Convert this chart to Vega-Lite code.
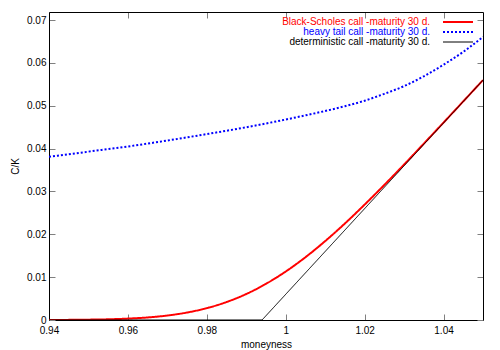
{
  "$schema": "https://vega.github.io/schema/vega-lite/v6.json",
  "width": 434,
  "height": 308,
  "autosize": {"type": "none"},
  "padding": {"left": 49, "top": 12, "right": 17, "bottom": 30},
  "background": "white",
  "config": {
    "view": {"stroke": null},
    "font": "Liberation Sans",
    "axis": {
      "grid": false,
      "domainColor": "#000000",
      "domainWidth": 1,
      "tickColor": "#808080",
      "tickWidth": 1,
      "tickSize": -6,
      "labelColor": "#000000",
      "labelFont": "Liberation Sans",
      "labelFontSize": 10,
      "titleFont": "Liberation Sans",
      "titleFontSize": 10,
      "titleFontWeight": "normal",
      "titleColor": "#000000",
      "labelFlush": false,
      "labelOverlap": false
    },
    "legend": {
      "labelFont": "Liberation Sans",
      "labelFontSize": 10
    }
  },
  "data": {
    "values": [
      {"x": 0.94, "series": "Black-Scholes call -maturity 30 d.", "y": 0.00001},
      {"x": 0.945, "series": "Black-Scholes call -maturity 30 d.", "y": 0.00003},
      {"x": 0.95, "series": "Black-Scholes call -maturity 30 d.", "y": 0.00008},
      {"x": 0.955, "series": "Black-Scholes call -maturity 30 d.", "y": 0.00016},
      {"x": 0.96, "series": "Black-Scholes call -maturity 30 d.", "y": 0.00033},
      {"x": 0.965, "series": "Black-Scholes call -maturity 30 d.", "y": 0.0006},
      {"x": 0.97, "series": "Black-Scholes call -maturity 30 d.", "y": 0.00105},
      {"x": 0.975, "series": "Black-Scholes call -maturity 30 d.", "y": 0.00175},
      {"x": 0.98, "series": "Black-Scholes call -maturity 30 d.", "y": 0.00277},
      {"x": 0.985, "series": "Black-Scholes call -maturity 30 d.", "y": 0.0042},
      {"x": 0.99, "series": "Black-Scholes call -maturity 30 d.", "y": 0.00607},
      {"x": 0.995, "series": "Black-Scholes call -maturity 30 d.", "y": 0.00845},
      {"x": 1.0, "series": "Black-Scholes call -maturity 30 d.", "y": 0.01132},
      {"x": 1.005, "series": "Black-Scholes call -maturity 30 d.", "y": 0.01466},
      {"x": 1.01, "series": "Black-Scholes call -maturity 30 d.", "y": 0.01842},
      {"x": 1.015, "series": "Black-Scholes call -maturity 30 d.", "y": 0.02253},
      {"x": 1.02, "series": "Black-Scholes call -maturity 30 d.", "y": 0.02694},
      {"x": 1.025, "series": "Black-Scholes call -maturity 30 d.", "y": 0.03154},
      {"x": 1.03, "series": "Black-Scholes call -maturity 30 d.", "y": 0.03629},
      {"x": 1.035, "series": "Black-Scholes call -maturity 30 d.", "y": 0.04117},
      {"x": 1.04, "series": "Black-Scholes call -maturity 30 d.", "y": 0.04609},
      {"x": 1.045, "series": "Black-Scholes call -maturity 30 d.", "y": 0.05104},
      {"x": 1.05, "series": "Black-Scholes call -maturity 30 d.", "y": 0.05601},
      {"x": 0.94, "series": "heavy tail call -maturity 30 d.", "y": 0.0381},
      {"x": 0.95, "series": "heavy tail call -maturity 30 d.", "y": 0.0393},
      {"x": 0.96, "series": "heavy tail call -maturity 30 d.", "y": 0.0405},
      {"x": 0.97, "series": "heavy tail call -maturity 30 d.", "y": 0.0419},
      {"x": 0.98, "series": "heavy tail call -maturity 30 d.", "y": 0.0434},
      {"x": 0.99, "series": "heavy tail call -maturity 30 d.", "y": 0.045},
      {"x": 1.0, "series": "heavy tail call -maturity 30 d.", "y": 0.0468},
      {"x": 1.01, "series": "heavy tail call -maturity 30 d.", "y": 0.0488},
      {"x": 1.015, "series": "heavy tail call -maturity 30 d.", "y": 0.0499},
      {"x": 1.02, "series": "heavy tail call -maturity 30 d.", "y": 0.0512},
      {"x": 1.025, "series": "heavy tail call -maturity 30 d.", "y": 0.0528},
      {"x": 1.03, "series": "heavy tail call -maturity 30 d.", "y": 0.0546},
      {"x": 1.035, "series": "heavy tail call -maturity 30 d.", "y": 0.0569},
      {"x": 1.04, "series": "heavy tail call -maturity 30 d.", "y": 0.0596},
      {"x": 1.045, "series": "heavy tail call -maturity 30 d.", "y": 0.0626},
      {"x": 1.05, "series": "heavy tail call -maturity 30 d.", "y": 0.0661},
      {"x": 0.94, "series": "deterministic call -maturity 30 d.", "y": 0},
      {"x": 0.994, "series": "deterministic call -maturity 30 d.", "y": 0},
      {"x": 1.05, "series": "deterministic call -maturity 30 d.", "y": 0.056}
    ]
  },
  "layer": [
    {
      "transform": [{"filter": "datum.series === 'Black-Scholes call -maturity 30 d.'"}],
      "mark": {"type": "line", "interpolate": "monotone", "clip": true, "strokeWidth": 2},
      "encoding": {
        "x": {
          "field": "x", "type": "quantitative",
          "scale": {"domain": [0.94, 1.05], "nice": false, "zero": false},
          "axis": {
            "orient": "bottom",
            "values": [0.94, 0.96, 0.98, 1.0, 1.02, 1.04],
            "format": "~g",
            "labelPadding": 11,
            "title": "moneyness",
            "titlePadding": 4
          }
        },
        "y": {
          "field": "y", "type": "quantitative",
          "scale": {"domain": [0, 0.0719], "nice": false, "zero": false},
          "axis": {
            "orient": "left",
            "values": [0, 0.01, 0.02, 0.03, 0.04, 0.05, 0.06, 0.07],
            "format": "~g",
            "labelPadding": 9,
            "title": "C/K",
            "titlePadding": 6
          }
        },
        "color": {
          "field": "series", "type": "nominal",
          "scale": {
            "domain": ["Black-Scholes call -maturity 30 d.", "heavy tail call -maturity 30 d.", "deterministic call -maturity 30 d."],
            "range": ["#ff0000", "#0000ff", "#000000"]
          },
          "legend": {
            "title": null,
            "orient": "none",
            "legendX": 404,
            "legendY": 5,
            "padding": 0,
            "symbolType": "M-3,0H3",
            "symbolSize": 100,
            "rowPadding": 0,
            "labelAlign": "right",
            "labelOffset": -33,
            "labelLimit": 300,
            "encode": {
              "labels": {"update": {"fill": {"scale": "color", "field": "value"}}},
              "symbols": {"update": {"strokeWidth": {"signal": "datum.value === 'deterministic call -maturity 30 d.' ? 1 : 2"}}}
            }
          }
        },
        "strokeDash": {
          "field": "series", "type": "nominal",
          "scale": {
            "domain": ["Black-Scholes call -maturity 30 d.", "heavy tail call -maturity 30 d.", "deterministic call -maturity 30 d."],
            "range": [[1, 0], [2, 2], [1, 0]]
          }
        }
      }
    },
    {
      "transform": [{"filter": "datum.series === 'heavy tail call -maturity 30 d.'"}],
      "mark": {"type": "line", "interpolate": "monotone", "clip": true, "strokeWidth": 2},
      "encoding": {
        "x": {
          "field": "x", "type": "quantitative",
          "axis": {
            "orient": "top",
            "values": [0.94, 0.96, 0.98, 1.0, 1.02, 1.04],
            "labels": false,
            "title": null
          }
        },
        "y": {
          "field": "y", "type": "quantitative",
          "axis": {
            "orient": "right",
            "values": [0, 0.01, 0.02, 0.03, 0.04, 0.05, 0.06, 0.07],
            "labels": false,
            "title": null
          }
        },
        "color": {"field": "series", "type": "nominal"},
        "strokeDash": {"field": "series", "type": "nominal"}
      }
    },
    {
      "transform": [{"filter": "datum.series === 'deterministic call -maturity 30 d.'"}],
      "mark": {"type": "line", "clip": true, "strokeWidth": 1},
      "encoding": {
        "x": {"field": "x", "type": "quantitative", "axis": null},
        "y": {"field": "y", "type": "quantitative", "axis": null},
        "color": {"field": "series", "type": "nominal"},
        "strokeDash": {"field": "series", "type": "nominal"}
      }
    }
  ],
  "resolve": {"axis": {"x": "independent", "y": "independent"}}
}
